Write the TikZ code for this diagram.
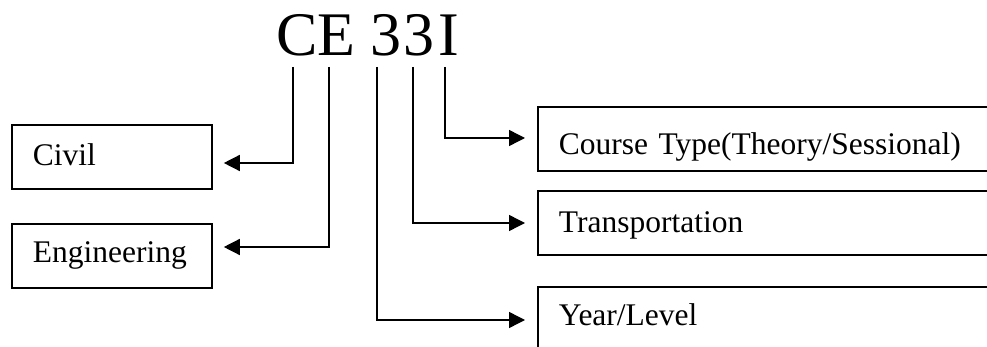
\documentclass[tikz,border=0pt]{standalone}
\usepackage{fontspec}
\setmainfont{Liberation Serif}
\usetikzlibrary{arrows.meta}
\begin{document}
\begin{tikzpicture}[x=1pt,y=-1pt,
  box/.style={draw,line width=1.8pt,inner xsep=21pt,inner ysep=0pt,
    minimum height=64pt,align=left,anchor=north west,
    font=\fontsize{31.5}{36}\selectfont},
  conn/.style={line width=1.4pt,-{Triangle[length=16pt,width=16pt]}}]
\useasboundingbox (0,0) rectangle (987,347);
\clip (0,0) rectangle (987,347);
\node[anchor=base west,inner sep=0pt,font=\fontsize{62}{70}\selectfont] (title) at (276,56) {CE 3\kern2pt3\kern4pt I};
\node[box,text width=158pt,text height=24pt,text depth=6pt] (civil) at (11,124) {Civil};
\node[box,text width=158pt,text height=20pt,text depth=6pt] (eng) at (11,223) {Engineering};
\node[box,text width=500pt,text height=38pt,text depth=6pt] (course) at (537,106) {Course Type(Theory/Sessional)};
\node[box,text width=500pt,text height=25pt,text depth=6pt] (trans) at (537,190) {Transportation};
\node[box,text width=500pt,text height=20pt,text depth=6pt] (year) at (537,286) {Year/Level};
\coordinate (c) at (293,67);
\coordinate (e) at (329,67);
\coordinate (t1) at (377,67);
\coordinate (t2) at (413,67);
\coordinate (i) at (445,67);
\draw[conn,shorten >=11pt] (c) |- (civil.east |- 0,163);
\draw[conn,shorten >=11pt] (e) |- (eng.east |- 0,247);
\draw[conn,shorten >=12pt] (i) |- (course.west |- 0,138);
\draw[conn,shorten >=12pt] (t2) |- (trans.west |- 0,223);
\draw[conn,shorten >=12pt] (t1) |- (year.west |- 0,320);
\end{tikzpicture}
\end{document}
